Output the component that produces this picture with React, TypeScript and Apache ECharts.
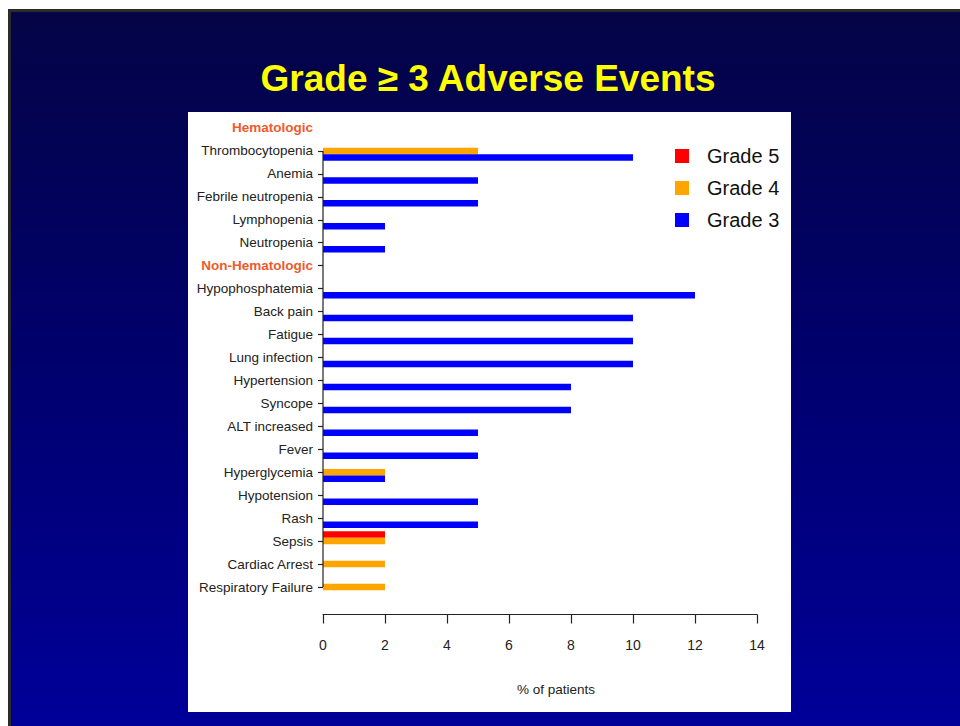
import React, { useEffect, useRef } from "react";
import * as echarts from "echarts";

// Rows from top to bottom; the two section headers carry no bars.
const categories = [
  "Hematologic",
  "Thrombocytopenia",
  "Anemia",
  "Febrile neutropenia",
  "Lymphopenia",
  "Neutropenia",
  "Non-Hematologic",
  "Hypophosphatemia",
  "Back pain",
  "Fatigue",
  "Lung infection",
  "Hypertension",
  "Syncope",
  "ALT increased",
  "Fever",
  "Hyperglycemia",
  "Hypotension",
  "Rash",
  "Sepsis",
  "Cardiac Arrest",
  "Respiratory Failure",
];

const sectionHeaders = ["Hematologic", "Non-Hematologic"];

// % of patients per grade, aligned with categories
const grade5 = [null, null, null, null, null, null, null, null, null, null, null, null, null, null, null, null, null, null, 2, null, null];
const grade4 = [null, 5, null, null, null, null, null, null, null, null, null, null, null, null, null, 2, null, null, 2, 2, 2];
const grade3 = [null, 10, 5, 5, 2, 2, null, 12, 10, 10, 10, 8, 8, 5, 5, 2, 5, 5, null, null, null];

const xTicks = { min: 0, max: 14, interval: 2 };

const SANS = "'Liberation Sans', Arial, sans-serif";

export default function App() {
  const ref = useRef<HTMLDivElement>(null);

  useEffect(() => {
    if (!ref.current) return;
    const chart = echarts.init(ref.current, null, { renderer: "svg" });

    const barSeries = (name: string, color: string, data: (number | null)[]) => ({
      name,
      type: "bar",
      data,
      barWidth: 6.5,
      barGap: "0%",
      itemStyle: { color },
      emphasis: { disabled: true },
    });

    chart.setOption({
      animation: false,
      backgroundColor: "transparent",
      title: {
        text: "Grade \u2265 3 Adverse Events",
        left: 483,
        top: 55,
        textAlign: "center",
        textStyle: {
          color: "#FFFF00",
          fontSize: 37,
          fontWeight: "bold",
          fontFamily: SANS,
        },
      },
      legend: {
        orient: "vertical",
        left: 675,
        top: 146,
        padding: 0,
        itemWidth: 14,
        itemHeight: 14,
        itemGap: 12,
        icon: "rect",
        data: ["Grade 5", "Grade 4", "Grade 3"],
        textStyle: {
          fontSize: 20,
          lineHeight: 20,
          color: "#111",
          fontFamily: SANS,
          padding: [0, 0, 0, 13],
        },
      },
      grid: { left: 323, right: 203, top: 116.5, height: 482 },
      xAxis: {
        type: "value",
        min: xTicks.min,
        max: xTicks.max,
        interval: xTicks.interval,
        offset: 16,
        splitLine: { show: false },
        axisLine: { show: true, lineStyle: { color: "#222", width: 1.2 } },
        axisTick: { show: true, length: 9, lineStyle: { color: "#222", width: 1.2 } },
        axisLabel: { margin: 23, fontSize: 14, color: "#222", fontFamily: SANS },
        name: "% of patients",
        nameLocation: "middle",
        nameGap: 68,
        nameTextStyle: { fontSize: 13.5, color: "#222", fontFamily: SANS, padding: [0, 0, 0, 32] },
      },
      yAxis: {
        type: "category",
        inverse: true,
        data: categories,
        axisLine: { show: false },
        axisTick: {
          show: true,
          alignWithLabel: true,
          length: 5,
          interval: (index: number) => index !== 0,
          lineStyle: { color: "#222", width: 1.2 },
        },
        axisLabel: {
          interval: 0,
          margin: 10,
          fontSize: 13.5,
          color: "#222",
          fontFamily: SANS,
          formatter: (v: string) => (sectionHeaders.includes(v) ? `{h|${v}}` : v),
          rich: {
            h: { color: "#EE5A2C", fontWeight: "bold", fontSize: 13.5, fontFamily: SANS },
          },
        },
      },
      series: [
        barSeries("Grade 5", "#FF0000", grade5),
        barSeries("Grade 4", "#FFA500", grade4),
        barSeries("Grade 3", "#0000FF", grade3),
      ],
    });

    // Vertical axis line running from the first to the last ticked row
    const x0 = chart.convertToPixel({ xAxisIndex: 0 }, 0) as number;
    const yTop = chart.convertToPixel({ yAxisIndex: 0 }, categories[1]) as number;
    const yBot = chart.convertToPixel({ yAxisIndex: 0 }, categories[categories.length - 1]) as number;
    chart.setOption({
      graphic: [
        {
          type: "line",
          shape: { x1: x0, y1: yTop, x2: x0, y2: yBot },
          style: { stroke: "#222", lineWidth: 1.2 },
          z: 10,
        },
      ],
    });

    return () => chart.dispose();
  }, []);

  return (
    <div style={{ position: "fixed", left: 0, top: 0, width: 960, height: 726, background: "#fff", overflow: "hidden" }}>
      <div
        style={{
          position: "absolute",
          left: 8,
          top: 9,
          right: 0,
          bottom: 0,
          borderLeft: "3px solid #2b2b2b",
          borderTop: "3px solid #2b2b2b",
          background: "linear-gradient(to bottom, #040446 0%, #00006E 50%, #000099 100%)",
        }}
      />
      <div style={{ position: "absolute", left: 188, top: 112, width: 603, height: 600, background: "#fff" }} />
      <div ref={ref} style={{ position: "absolute", left: 0, top: 0, width: 960, height: 726 }} />
    </div>
  );
}
